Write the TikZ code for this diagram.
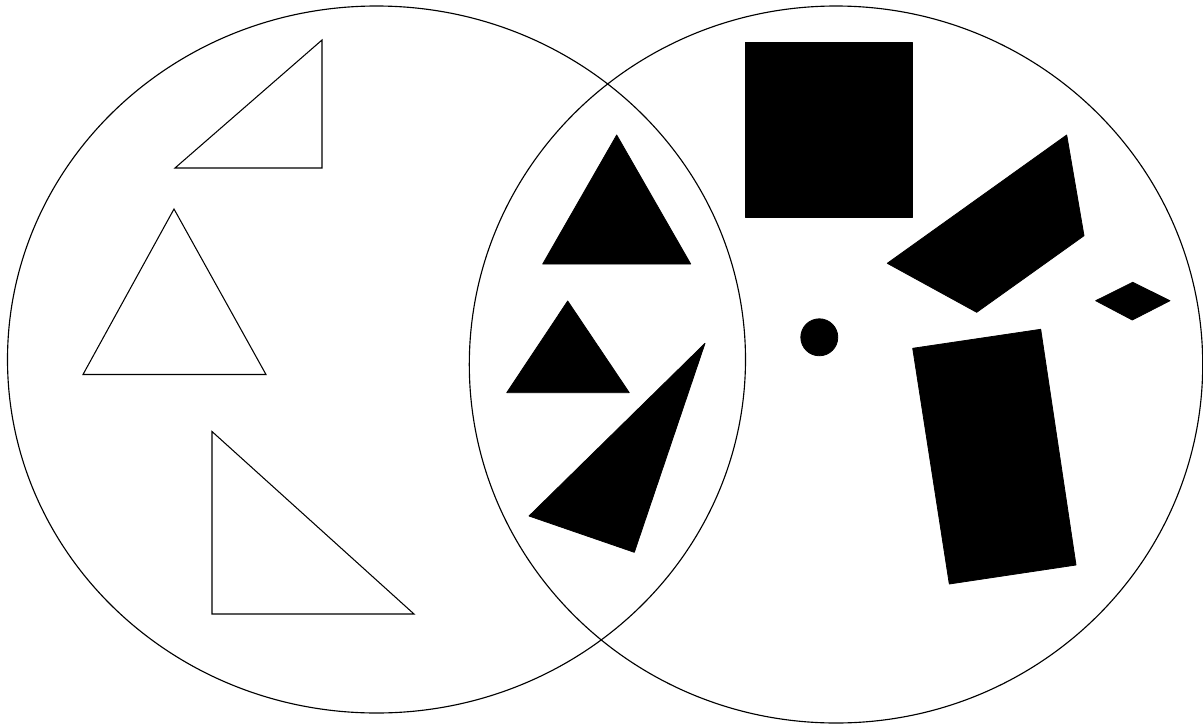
\documentclass[tikz,border=0pt]{standalone}
\begin{document}
\begin{tikzpicture}[x=0.75pt,y=-0.75pt,
  setring/.style={draw=black,line width=0.85pt},
  hollow/.style={draw=black,line width=0.8pt,line join=miter},
  solid/.style={draw=black,fill=black,line width=0.6pt,line join=round}]
\useasboundingbox (0,0) rectangle (1203,725);
% sets
\draw[setring] (376.5,359.5) ellipse [x radius=369, y radius=353.5];
\draw[setring] (836,364.5) ellipse [x radius=366.7, y radius=358.5];
% left: outline triangles
\draw[hollow] (322,40) -- (322,168) -- (175,168) -- cycle;
\draw[hollow] (174,209) -- (266,374.5) -- (83,374.5) -- cycle;
\draw[hollow] (212,431.5) -- (212,614) -- (414,614) -- cycle;
% intersection: black triangles
\draw[solid] (616.7,135) -- (690.7,264) -- (542.7,264) -- cycle;
\draw[solid] (567.7,301) -- (629.3,392.7) -- (506.7,392.7) -- cycle;
\draw[solid] (705,343.3) -- (634.3,552.3) -- (529,516) -- cycle;
% right: black shapes
\draw[solid] (745,42.3) rectangle (912.3,217);
\draw[solid] (1066.7,135) -- (1084,235.7) -- (976.7,312.3) -- (887.3,263.3) -- cycle;
\draw[solid] (1095.7,300.7) -- (1132.7,282.3) -- (1170,300.7) -- (1132.3,320) -- cycle;
\draw[solid] (819.3,337.3) circle [radius=18.5];
\draw[solid] (912.7,348.3) -- (1040.7,329.3) -- (1076,565) -- (949.3,584) -- cycle;
\end{tikzpicture}
\end{document}
